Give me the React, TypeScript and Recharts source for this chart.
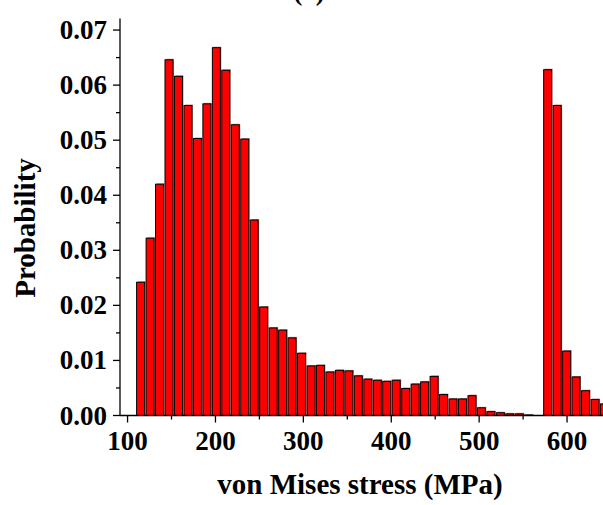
import { BarChart, Bar, XAxis, YAxis, Label } from "recharts";

// bin centres (MPa) and probability per bin
const STRESS = [
  114.5, 125.3, 136.0, 146.8, 157.6, 168.4, 179.1, 189.9, 200.7, 211.4,
  222.2, 233.0, 243.7, 254.5, 265.3, 276.1, 286.8, 297.6, 308.4, 319.1,
  329.9, 340.7, 351.4, 362.2, 373.0, 383.8, 394.5, 405.3, 416.1, 426.8,
  437.6, 448.4, 459.1, 469.9, 480.7, 491.5, 502.2, 513.0, 523.8, 534.5,
  545.3, 556.1, 566.8, 577.6, 588.4, 599.2, 609.9, 620.7, 631.5, 642.2,
];

const PROB = [
  0.0242, 0.0322, 0.042, 0.0646, 0.0616, 0.0563, 0.0503, 0.0566, 0.0668, 0.0627,
  0.0528, 0.0502, 0.0355, 0.0197, 0.0159, 0.0155, 0.0141, 0.0113, 0.009, 0.0091,
  0.0079, 0.0082, 0.0081, 0.0072, 0.0066, 0.0064, 0.0062, 0.0064, 0.0049, 0.0057,
  0.0061, 0.0071, 0.0038, 0.003, 0.003, 0.0036, 0.0014, 0.0007, 0.0005, 0.0003,
  0.0003, 0.0001, 0, 0.0628, 0.0563, 0.0117, 0.007, 0.0045, 0.0029, 0.0021,
];

const X_TICKS = [100, 150, 200, 250, 300, 350, 400, 450, 500, 550, 600, 650];
const X_MAJOR = [100, 200, 300, 400, 500, 600];
const Y_TICKS = [
  0, 0.005, 0.01, 0.015, 0.02, 0.025, 0.03, 0.035, 0.04, 0.045, 0.05, 0.055, 0.06, 0.065, 0.07,
];

const FONT = '"Liberation Serif", "Times New Roman", serif';

const rows = STRESS.map((s, i) => ({ stress: s, prob: PROB[i] }));

function XTick({ x, y, payload }: any) {
  const major = X_MAJOR.includes(payload.value);
  return (
    <g>
      <line x1={x} x2={x} y1={y} y2={y + (major ? 7 : 4)} stroke="#000" strokeWidth={1.3} />
      {major ? (
        <text x={x} y={y + 34.5} textAnchor="middle" fontFamily={FONT} fontWeight="bold" fontSize={27} fill="#000">
          {payload.value}
        </text>
      ) : null}
    </g>
  );
}

function YTick({ x, y, payload }: any) {
  const major = Math.round(payload.value * 1000) % 10 === 0;
  return (
    <g>
      <line x1={x} x2={x - (major ? 7 : 4)} y1={y} y2={y} stroke="#000" strokeWidth={1.3} />
      {major ? (
        <text x={x - 13} y={y + 9} textAnchor="end" fontFamily={FONT} fontWeight="bold" fontSize={27} fill="#000">
          {payload.value.toFixed(2)}
        </text>
      ) : null}
    </g>
  );
}

function ShadowBar({ x, y, width, height }: any) {
  if (!height || height <= 0) return null;
  return (
    <g>
      <rect x={x + 1} y={y - 1} width={width} height={height} fill="#8a2a2a" opacity={0.55} />
      <rect x={x} y={y} width={width} height={height} fill="#ff0000" stroke="#000" strokeWidth={1} />
    </g>
  );
}

export default function App() {
  return (
    <div
      style={{
        position: "absolute",
        left: 0,
        top: 0,
        width: 603,
        height: 505,
        overflow: "hidden",
        background: "#fff",
      }}
    >
      <BarChart
        width={640}
        height={505}
        data={rows}
        barSize={8}
        margin={{ top: 18.5, right: 29, bottom: 0, left: 0 }}
      >
        <XAxis
          type="number"
          dataKey="stress"
          domain={[91.4, 650]}
          ticks={X_TICKS}
          interval={0}
          allowDataOverflow
          height={89.5}
          tickSize={0}
          tickMargin={0}
          tickLine={false}
          tick={<XTick />}
          axisLine={{ stroke: "#000", strokeWidth: 1.3 }}
        >
          <Label
            content={() => (
              <text x={360} y={494} textAnchor="middle" fontFamily={FONT} fontWeight="bold" fontSize={29} fill="#000">
                von Mises stress (MPa)
              </text>
            )}
          />
        </XAxis>
        <YAxis
          type="number"
          domain={[0, 0.0721]}
          ticks={Y_TICKS}
          interval={0}
          allowDataOverflow
          width={120}
          tickSize={0}
          tickMargin={0}
          tickLine={false}
          tick={<YTick />}
          axisLine={{ stroke: "#000", strokeWidth: 1.3 }}
        >
          <Label
            content={() => (
              <text
                x={35}
                y={228}
                transform="rotate(-90, 35, 228)"
                textAnchor="middle"
                fontFamily={FONT}
                fontWeight="bold"
                fontSize={29}
                fill="#000"
              >
                Probability
              </text>
            )}
          />
        </YAxis>
        <Bar dataKey="prob" shape={<ShadowBar />} isAnimationActive={false} />
        <text x={309} y={0} textAnchor="middle" fontFamily={FONT} fontWeight="bold" fontSize={27} fill="#000">
          (a)
        </text>
      </BarChart>
    </div>
  );
}
